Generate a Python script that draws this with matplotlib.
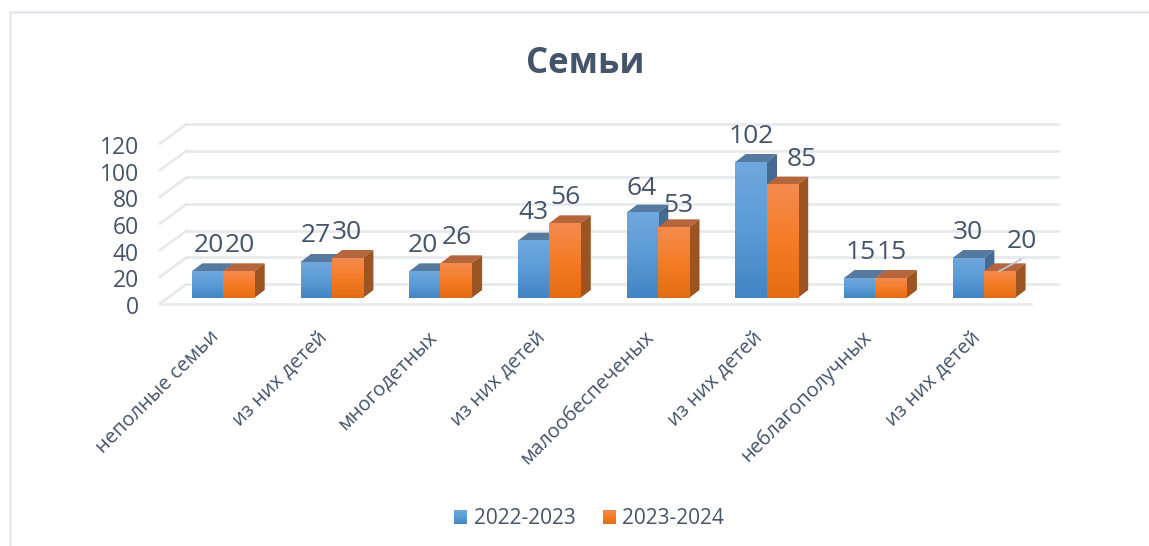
import numpy as np
import matplotlib
matplotlib.use("Agg")
import matplotlib.pyplot as plt
from matplotlib.colors import LinearSegmentedColormap
from matplotlib.lines import Line2D
from matplotlib.patches import Polygon

categories = ["неполные семьи", "из них детей", "многодетных", "из них детей",
              "малообеспеченых", "из них детей", "неблагополучных", "из них детей"]
series_names = ["2022-2023", "2023-2024"]
values_2022 = [20, 27, 20, 43, 64, 102, 15, 30]
values_2023 = [20, 30, 26, 56, 53, 85, 15, 20]
y_ticks = [0, 20, 40, 60, 80, 100, 120]
title_text = "Семьи"

W, H = 1149, 546
plt.rcParams["font.family"] = ["Open Sans", "DejaVu Sans"]
TXT = "#44546a"
GRID = "#e6e8ed"

fig = plt.figure(figsize=(W / 100, H / 100), dpi=100)
ax = fig.add_axes([0, 0, 1, 1])
ax.axis("off")

# full-figure axes: x unit = one category, y unit = one value
PX = 108.7
PY = 4 / 3
X0, Y0 = 223.0, 298.0
ax.set_xlim((0 - X0) / PX, (W - X0) / PX)
ax.set_ylim((Y0 - H) / PY, Y0 / PY)
ax.set_autoscale_on(False)

dx, dy = 10.5 / PX, 8 / PY          # depth of a bar
bw = 31.2 / PX                      # width of a bar
fx0, fy0 = (160 - X0) / PX, -5.5 / PY  # front-left of the floor
bx0 = (186.7 - X0) / PX
by0 = (Y0 - 284) / PY
bx1 = (1057.5 - X0) / PX
fx1 = (1031 - X0) / PX
TDY = 4.5 / PY                      # centres text glyphs vertically

for t in y_ticks:
    ax.plot([fx0, bx0], [fy0 + t, by0 + t], color=GRID, lw=1.9, zorder=1)
    ax.plot([bx0, bx1], [by0 + t, by0 + t], color=GRID, lw=1.9, zorder=1)
    ax.text((139 - X0) / PX, fy0 + t - TDY, str(t), ha="right", va="center",
            fontsize=16.5, color=TXT)
ax.plot([fx0, fx1], [fy0, fy0], color=GRID, lw=1.9, zorder=1)

blue = LinearSegmentedColormap.from_list("b", ["#6fa8dc", "#5b9bd5", "#4285c4"])
orange = LinearSegmentedColormap.from_list("o", ["#f48b4f", "#f57c26", "#e36c14"])
grad = np.linspace(0, 1, 64).reshape(-1, 1)


def bar3d(x, v, cmap, top, side, z):
    ax.add_patch(Polygon([(x, v), (x + bw, v), (x + bw + dx, v + dy), (x + dx, v + dy)],
                         fc=top, ec="none", zorder=z))
    ax.add_patch(Polygon([(x + bw, 0), (x + bw + dx, dy), (x + bw + dx, v + dy), (x + bw, v)],
                         fc=side, ec="none", zorder=z))
    ax.imshow(grad, cmap=cmap, extent=(x, x + bw, 0, v), aspect="auto",
              origin="upper", zorder=z + 0.1, interpolation="bilinear")


for i, (a, b) in enumerate(zip(values_2022, values_2023)):
    bar3d(i - bw, a, blue, "#55799f", "#466a91", 3 + i)
    bar3d(i, b, orange, "#b5663c", "#9c5423", 3.5 + i)

# data-label nudges (pixels) from the bar top, as placed in the source
lab_a = [(-14, 30), (-16, 31), (-18, 30), (-16, 33), (-16, 29), (-15, 30), (-15, 30), (-16, 30)]
lab_b = [(17, 30), (15, 30), (16, 30), (16, 30), (21, 26), (35.5, 30), (16, 30), (38, 34)]
for i, (a, b) in enumerate(zip(values_2022, values_2023)):
    ax.text(i + lab_a[i][0] / PX, a + lab_a[i][1] / PY - TDY, str(a), ha="center", va="center",
            fontsize=19, color=TXT, zorder=30)
    ax.text(i + lab_b[i][0] / PX, b + lab_b[i][1] / PY - TDY, str(b), ha="center", va="center",
            fontsize=19, color=TXT, zorder=30)
# leader line of the last label
ax.plot([7 + 15 / PX, 7 + 37 / PX], [20, 20 + 12 / PY], color="#b8c4d4", lw=1.3, zorder=31)

for i, c in enumerate(categories):
    ax.text(i - 14 / PX, -29 / PY, c, rotation=45, ha="right", va="top",
            rotation_mode="anchor", fontsize=14.4, color=TXT)

ax.text((585 - X0) / PX, (Y0 - 64) / PY, title_text, ha="center", va="center",
        fontsize=25, fontweight="bold", color=TXT)

# legend
for x, cm, name, tx in [(454, blue, series_names[0], 474), (603, orange, series_names[1], 622)]:
    ax.imshow(grad, cmap=cm, aspect="auto", origin="upper", zorder=5,
              extent=((x - X0) / PX, (x + 13 - X0) / PX, (Y0 - 524) / PY, (Y0 - 510) / PY))
    ax.text((tx - X0) / PX, (Y0 - 518) / PY, name, ha="left", va="center",
            fontsize=15, color=TXT)

# outer frame
fr = "#e4e8ee"
fig.add_artist(Line2D([9.5 / W, 9.5 / W], [0, 1 - 12 / H], color=fr, lw=1.8))
fig.add_artist(Line2D([9.5 / W, 1], [1 - 12 / H, 1 - 12 / H], color=fr, lw=1.8))

fig.savefig("out.png", dpi=100)
